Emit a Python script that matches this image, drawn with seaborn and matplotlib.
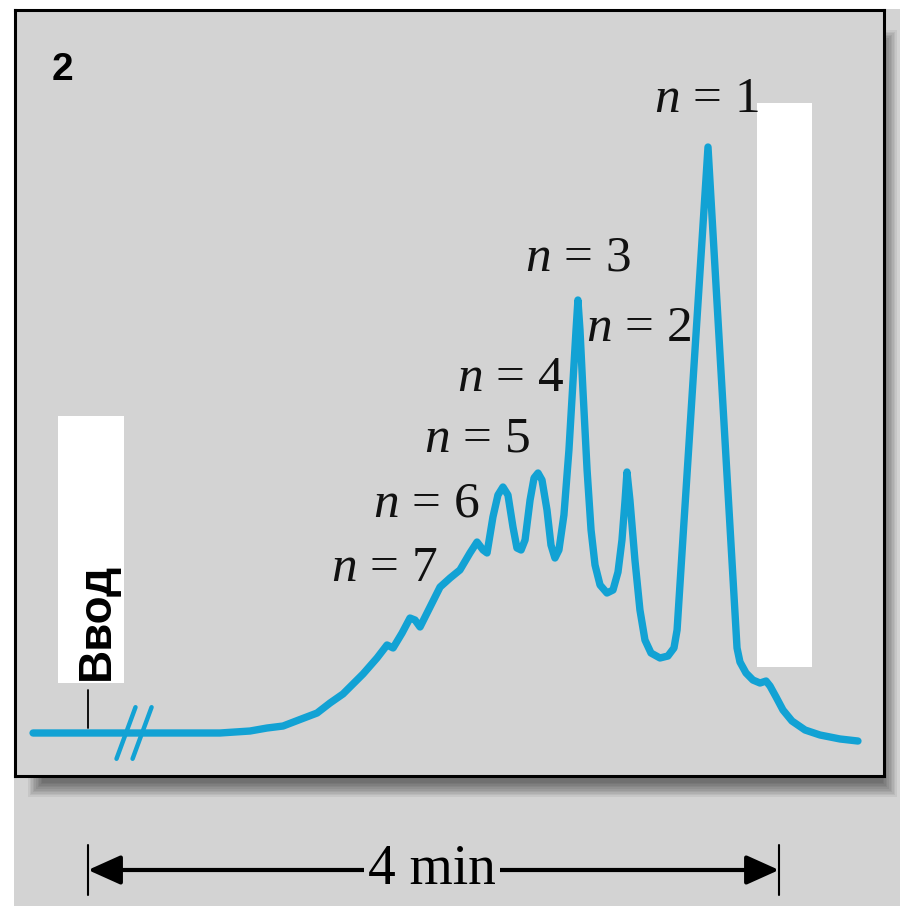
import matplotlib
matplotlib.use("Agg")
import matplotlib.pyplot as plt
import matplotlib.transforms as mtransforms
from matplotlib.patches import Rectangle
import seaborn as sns
import pandas as pd

# ---- data (time in min after injection, signal in % of n=1 peak)
time_min = [-0.318, 0.764, 0.851, 0.938, 1.036, 1.129, 1.227, 1.326, 1.401, 1.476,
            1.592, 1.673, 1.731, 1.766,
            1.818, 1.864, 1.893, 1.922, 1.980, 2.038, 2.096, 2.153, 2.211, 2.252,
            2.287, 2.310, 2.344, 2.373, 2.402, 2.431, 2.460, 2.483, 2.507, 2.530,
            2.559, 2.582, 2.605, 2.628, 2.657, 2.680, 2.703, 2.726, 2.755, 2.784,
            2.808, 2.825, 2.836, 2.848, 2.865, 2.889, 2.912, 2.935, 2.964, 3.004,
            3.039, 3.068, 3.091, 3.109, 3.120, 3.137, 3.166, 3.195, 3.224, 3.259,
            3.311, 3.357, 3.392, 3.410, 3.421, 3.589, 3.757, 3.774, 3.809, 3.849,
            3.890, 3.925, 3.948, 3.983, 4.023, 4.075, 4.151, 4.237, 4.353, 4.457]
signal = [0.0, 0.0, 0.17, 0.34, 0.85, 1.19, 2.30, 3.41, 5.12, 6.66,
          10.07, 12.80, 15.02, 14.51,
          17.06, 19.62, 19.28, 18.09, 21.50, 24.91, 26.45, 27.82, 30.72, 32.59,
          31.23, 30.72, 36.86, 40.61, 41.98, 40.61, 35.15, 31.57, 31.23, 32.94,
          39.76, 43.52, 44.37, 43.17, 38.05, 32.08, 29.86, 31.23, 37.20, 48.29,
          60.24, 68.77, 73.89, 68.77, 58.53, 44.88, 34.64, 28.67, 25.26, 23.89,
          24.40, 27.47, 32.94, 39.76, 44.54, 39.76, 29.52, 20.99, 15.87, 13.65,
          12.80, 13.14, 14.51, 17.58, 22.70, 100.0, 14.51, 12.12, 10.24, 9.04,
          8.53, 8.87, 8.02, 6.14, 3.92, 2.05, 0.51, -0.34, -1.02, -1.37]

peak_n = ["1", "2", "3", "4", "5", "6", "7"]
label_t = [3.583, 3.190, 2.836, 2.449, 2.252, 1.957, 1.713]
label_s = [108.0, 68.94, 81.06, 60.41, 50.17, 39.08, 27.99]

break_t = [0.22, 0.313]
injection_t = 0.0
scale_start, scale_end = 0.0, 4.0
scale_label = "4 min"
panel_label = "2"
injection_label = "Ввод"

# white masking boxes (t0, s0, t1, s1)
mask_boxes = [(3.873, 11.26, 4.191, 107.5), (-0.174, 8.53, 0.208, 54.1)]

df = pd.DataFrame({"time": time_min, "signal": signal})

sns.set_style("white")
plt.rcParams["mathtext.fontset"] = "custom"
plt.rcParams["mathtext.it"] = "Liberation Serif:italic"
plt.rcParams["mathtext.rm"] = "Liberation Serif"
plt.rcParams["text.color"] = "black"

BG = "#d3d3d3"
LINE = "#12a2d4"
W, H = 900, 906

fig = plt.figure(figsize=(9, 9.06), dpi=100, facecolor="white")
fig.patches.append(Rectangle((14 / W, 0), 886 / W, 897 / H, transform=fig.transFigure,
                             facecolor=BG, edgecolor="none", zorder=-5))
for i in range(10):
    ins = i * 1.6
    l, r = (28 + ins) / W, (897 - ins) / W
    top, bot = 1 - (30 + ins) / H, 1 - (797 - ins) / H
    fig.patches.append(Rectangle((l, bot), r - l, top - bot, transform=fig.transFigure,
                                 facecolor="black", alpha=0.06, edgecolor="none", zorder=-4))

ax = fig.add_axes([15 / W, 130 / H, 869 / W, 766 / H])
ax.set_facecolor(BG)
for sp in ax.spines.values():
    sp.set_color("black")
    sp.set_linewidth(2.2)
ax.set_xticks([])
ax.set_yticks([])
ax.set_xlim(-0.4226, 4.6078)
ax.set_ylim(-7.338, 123.38)

sns.lineplot(data=df, x="time", y="signal", ax=ax, color=LINE, linewidth=5.3,
             sort=False, estimator=None, zorder=2)
ln = ax.lines[-1]
ln.set_solid_capstyle("round")
ln.set_solid_joinstyle("round")
ax.set_xlabel("")
ax.set_ylabel("")

for tc in break_t:
    ax.plot([tc - 0.055, tc + 0.055], [-4.4, 4.4], color=LINE, lw=3.2,
            solid_capstyle="round", zorder=2)

ax.plot([injection_t, injection_t], [0.85, 7.3], color="black", lw=1.3, zorder=2)

for (t0, s0, t1, s1) in mask_boxes:
    ax.add_patch(Rectangle((t0, s0), t1 - t0, s1 - s0, facecolor="white",
                           edgecolor="none", zorder=3))

for lab, t, s in zip(peak_n, label_t, label_s):
    ax.text(t, s, f"$n$ = {lab}", ha="center", va="center", fontsize=37,
            family="Liberation Serif", color="#111111", zorder=4)

ax.text(0.0541, 0.9217, panel_label, transform=ax.transAxes, fontsize=28,
        fontweight="bold", family="Liberation Sans", ha="center", va="center",
        color="black")
ax.text(0.052, 19.1, injection_label, rotation=90, ha="center", va="center",
        fontsize=33, fontweight="bold", family="Liberation Sans", zorder=5,
        color="black")

# time scale bar below the panel
trans = mtransforms.blended_transform_factory(ax.transData, fig.transFigure)
ya = 36 / H
mid = (scale_start + scale_end) / 2
for end in (scale_start, scale_end):
    ax.annotate("", xy=(end, ya), xycoords=trans, xytext=(mid, ya), textcoords=trans,
                arrowprops=dict(arrowstyle="-|>,head_length=1.0,head_width=0.45",
                                color="black", lw=3, shrinkA=0, shrinkB=0,
                                mutation_scale=20),
                annotation_clip=False)
    ax.plot([end, end], [61 / H, 11 / H], transform=trans, clip_on=False,
            color="black", lw=1.5)
ax.text(mid - 0.009, ya, scale_label, transform=trans, ha="center", va="center",
        fontsize=40, family="Liberation Serif", clip_on=False, color="black",
        bbox=dict(facecolor=BG, edgecolor="none", pad=3), zorder=6)

fig.savefig("out.png", dpi=100, facecolor="white")
